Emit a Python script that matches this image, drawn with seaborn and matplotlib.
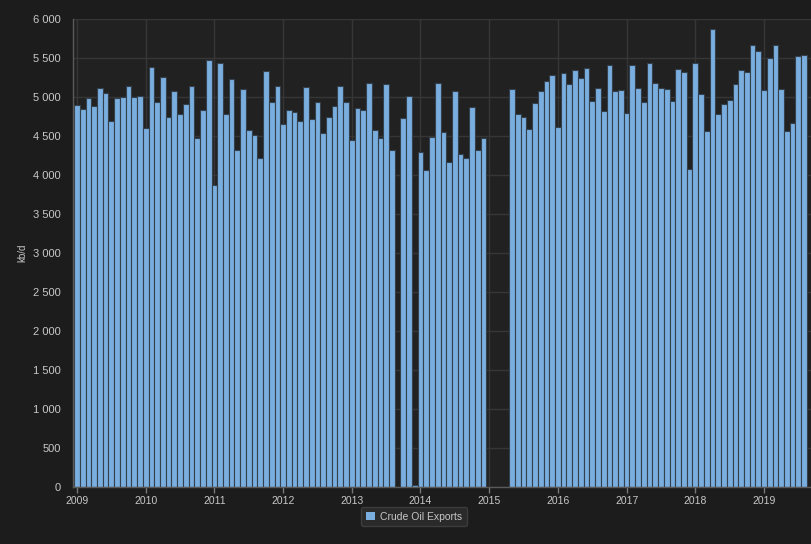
import numpy as np
import pandas as pd
import matplotlib
matplotlib.use("Agg")
import matplotlib.pyplot as plt
from matplotlib.patches import Patch
from matplotlib.ticker import FuncFormatter, MultipleLocator
import seaborn as sns

# ---- data (kb/d), monthly ----
exports_2009 = [4897, 4842, 4983, 4880, 5120, 5055, 4696, 4983, 5000, 5145, 5000, 5013]
exports_2010 = [4603, 5385, 4936, 5252, 4748, 5081, 4778, 4906, 5145, 4479, 4829, 5479]
exports_2011 = [3876, 5440, 4778, 5227, 4325, 5107, 4573, 4509, 4218, 5333, 4936, 5145]
exports_2012 = [4654, 4829, 4812, 4696, 5132, 4722, 4932, 4534, 4748, 4880, 5145, 4936]
exports_2013 = [4444, 4855, 4829, 5175, 4573, 4470, 5162, 4325, 0, 4735, 5013, 30]
exports_2014 = [4295, 4068, 4491, 5175, 4547, 4171, 5081, 4265, 4218, 4868, 4321, 4470]
exports_2015 = [0, 0, 0, 0, 5107, 4786, 4748, 4590, 4919, 5081, 5201, 5282]
exports_2016 = [4611, 5308, 5162, 5346, 5239, 5372, 4949, 5120, 4816, 5415, 5081, 5094]
exports_2017 = [4799, 5415, 5120, 4936, 5440, 5175, 5120, 5107, 4949, 5359, 5321, 4081]
exports_2018 = [5440, 5043, 4560, 5868, 4786, 4906, 4962, 5162, 5346, 5321, 5667, 5590]
exports_2019 = [5094, 5496, 5667, 5107, 4560, 4667, 5521, 5534]

years = list(range(2009, 2020))
series_name = "Crude Oil Exports"
y_label = "kb/d"

all_years = [exports_2009, exports_2010, exports_2011, exports_2012, exports_2013,
             exports_2014, exports_2015, exports_2016, exports_2017, exports_2018,
             exports_2019]
rows = []
for yr, vals in zip(years, all_years):
    for m, v in enumerate(vals):
        rows.append({"t": yr + m / 12.0, "v": v})
df = pd.DataFrame(rows)

# ---- style ----
sns.set_style("dark")
plt.rcParams["font.family"] = ["Liberation Sans", "DejaVu Sans"]

BAR = "#79aedf"
FIG_BG = "#1c1c1c"
AX_BG = "#212121"
GRID = "#363636"
TXT = "#c8c8c8"

fig = plt.figure(figsize=(8.12, 5.44), dpi=100, facecolor=FIG_BG)
W, H = 812, 544
left_px, right_px, top_px, bot_px = 73, 812, 19, 487
ax = fig.add_axes([left_px / W, 1 - bot_px / H, (right_px - left_px) / W, (bot_px - top_px) / H])
ax.set_facecolor(AX_BG)

sns.barplot(data=df, x="t", y="v", native_scale=True, color=BAR, saturation=1,
            width=1.0, edgecolor="#34404c", linewidth=0.8, errorbar=None, ax=ax)

px_per_year = (764 - 77) / 10.0
x0 = 2009 - (77 - left_px) / px_per_year
x1 = 2009 + (right_px - 77) / px_per_year
ax.set_xlim(x0, x1)
ax.set_ylim(0, 6000)

ax.set_xticks(years)
ax.set_xticklabels([str(y) for y in years])
ax.yaxis.set_major_locator(MultipleLocator(500))
ax.yaxis.set_major_formatter(FuncFormatter(lambda v, p: f"{int(v):,}".replace(",", " ")))

ax.grid(True, axis="both", color=GRID, linewidth=1.0)
ax.set_axisbelow(True)

for s in ["top", "right"]:
    ax.spines[s].set_visible(False)
for s in ["left", "bottom"]:
    ax.spines[s].set_visible(True)
    ax.spines[s].set_color("#5a5a5a")
    ax.spines[s].set_linewidth(1.0)

ax.tick_params(axis="x", colors="#777777", labelcolor=TXT, length=4, width=1,
               direction="out", pad=2.5, labelsize=7.5, bottom=True)
ax.tick_params(axis="y", length=0, labelcolor=TXT, pad=9, labelsize=8, left=False)

ax.set_xlabel("")
ax.set_ylabel(y_label, color=TXT, fontsize=7)
ax.yaxis.set_label_coords((27 - left_px) / (right_px - left_px), 0.5)

leg = fig.legend(handles=[Patch(facecolor=BAR, edgecolor="none", label=series_name)],
                 loc="center", bbox_to_anchor=(414 / W, 1 - 516.5 / H),
                 frameon=True, fontsize=7.5, handlelength=0.9, handleheight=0.9,
                 handletextpad=0.5, borderpad=0.45, fancybox=True)
leg.get_frame().set_facecolor("#2a2a2a")
leg.get_frame().set_edgecolor("#3c3c3c")
leg.get_frame().set_alpha(1)
for t in leg.get_texts():
    t.set_color(TXT)

fig.savefig("out.png", dpi=100, facecolor=FIG_BG)
